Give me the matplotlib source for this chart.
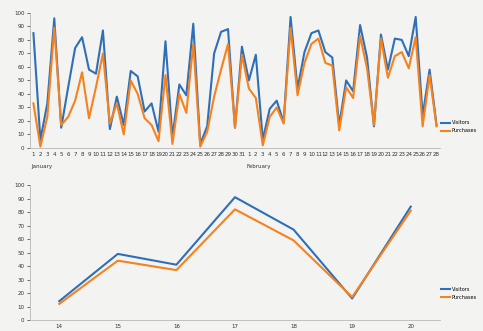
import matplotlib.pyplot as plt
import numpy as np

# daily figures, January 1-31 then February 1-28
jan_visitors = [85, 6, 33, 96, 15, 45, 74, 82, 58, 55, 87, 14, 38, 17, 57, 53,
                27, 33, 12, 79, 8, 47, 39, 92, 3, 16, 70, 86, 88, 15, 75]
jan_purchases = [33, 1, 23, 89, 17, 23, 35, 56, 22, 45, 70, 18, 33, 10, 50, 40,
                 22, 17, 5, 54, 3, 40, 26, 77, 1, 12, 38, 58, 77, 15, 69]
feb_visitors = [50, 69, 6, 29, 35, 19, 97, 44, 71, 85, 87, 71, 67, 17, 50, 42,
                91, 67, 16, 84, 58, 81, 80, 68, 97, 24, 58, 17]
feb_purchases = [44, 37, 2, 23, 30, 18, 89, 39, 63, 77, 81, 63, 61, 13, 45, 37,
                 83, 59, 17, 81, 52, 68, 71, 59, 82, 16, 54, 16]

jan_days = [str(d) for d in range(1, 32)]
feb_days = [str(d) for d in range(1, 29)]

# zoomed view: February 14-20
zoom_days = ["14", "15", "16", "17", "18", "19", "20"]
zoom_visitors = [14, 49, 41, 91, 67, 16, 84]
zoom_purchases = [12, 44, 37, 82, 59, 17, 81]

BLUE = "#2f6fb8"
ORANGE = "#f5821f"
BG = "#f3f3f1"


def style_axis(ax):
    for side in ["top", "right"]:
        ax.spines[side].set_visible(False)
    ax.spines["left"].set_color("#b8b8b8")
    ax.spines["bottom"].set_color("#b8b8b8")
    ax.spines["left"].set_linewidth(0.6)
    ax.spines["bottom"].set_linewidth(0.6)
    ax.set_facecolor(BG)
    ax.set_ylim(0, 100)
    ax.set_yticks(np.arange(0, 101, 10))
    ax.tick_params(axis="y", labelsize=4, length=2, width=0.5, colors="#333333", pad=2)
    ax.tick_params(axis="x", labelsize=4, length=0, colors="#333333", pad=3)


def add_legend(ax, y0):
    ax.legend(loc="lower left", bbox_to_anchor=(1.0, y0), frameon=False, fontsize=3.6,
              handlelength=1.8, handletextpad=0.3, labelspacing=0.6, borderpad=0,
              borderaxespad=0.2)


fig = plt.figure(figsize=(4.83, 3.31), dpi=100, facecolor=BG)

# top chart - both months
ax1 = fig.add_axes([0.062, 0.553, 0.849, 0.408])
visitors = jan_visitors + feb_visitors
purchases = jan_purchases + feb_purchases
x = np.arange(len(visitors))
ax1.plot(x, visitors, color=BLUE, lw=1.5, label="Visitors")
ax1.plot(x, purchases, color=ORANGE, lw=1.5, label="Purchases")
ax1.set_xlim(-0.5, len(x) - 0.5)
ax1.set_xticks(x)
ax1.set_xticklabels(jan_days + feb_days)
style_axis(ax1)
trans = ax1.get_xaxis_transform()
ax1.text(0 - 0.3, -0.12, "January", transform=trans, fontsize=4, ha="left", va="top", color="#333333")
ax1.text(len(jan_days) - 0.3, -0.12, "February", transform=trans, fontsize=4, ha="left", va="top", color="#333333")
add_legend(ax1, 0.1)

# bottom chart - zoom on a week
ax2 = fig.add_axes([0.062, 0.033, 0.849, 0.408])
xz = np.arange(len(zoom_days))
ax2.plot(xz, zoom_visitors, color=BLUE, lw=1.5, label="Visitors")
ax2.plot(xz, zoom_purchases, color=ORANGE, lw=1.5, label="Purchases")
ax2.set_xlim(-0.5, len(xz) - 0.5)
ax2.set_xticks(xz)
ax2.set_xticklabels(zoom_days)
style_axis(ax2)
add_legend(ax2, 0.14)

fig.savefig("out.png", dpi=100, facecolor=BG)
